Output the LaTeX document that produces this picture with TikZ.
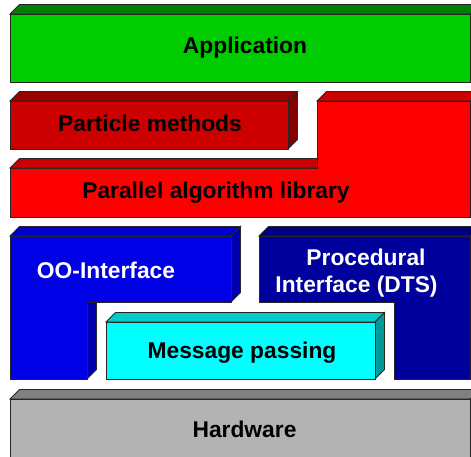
\documentclass[tikz,border=0pt]{standalone}
\usepackage{fontspec}
\setmainfont{Liberation Sans}
\begin{document}
\begin{tikzpicture}[x=1pt,y=-1pt,
  face/.style={draw=black!85,line width=0.8pt,line join=miter},
  lbl/.style={font=\fontsize{22.8}{27}\selectfont\bfseries,inner sep=0pt,anchor=base},
  wlbl/.style={lbl,text=white}]
\definecolor{appF}{HTML}{00CC00}\definecolor{appT}{HTML}{007F00}
\definecolor{parF}{HTML}{CC0000}\definecolor{parT}{HTML}{990000}\definecolor{parS}{HTML}{850000}
\definecolor{palF}{HTML}{FF0000}\definecolor{palT}{HTML}{CC0000}
\definecolor{ooF}{HTML}{0000E6}\definecolor{ooT}{HTML}{0000CC}\definecolor{ooS}{HTML}{0000B0}
\definecolor{prF}{HTML}{00009C}\definecolor{prT}{HTML}{000080}
\definecolor{mpF}{HTML}{00FFFF}\definecolor{mpT}{HTML}{00CCCC}\definecolor{mpS}{HTML}{009999}
\definecolor{hwF}{HTML}{B3B3B3}\definecolor{hwT}{HTML}{808080}
\useasboundingbox (0,0) rectangle (471,456);
\clip (0,0) rectangle (471,456);
% Application
\fill[white] (0,0) rectangle (471,456);
\draw[face,fill=appT] (10,14) -- (19.5,4.5) -- (479.5,4.5) -- (470,14) -- cycle;
\draw[face,fill=appF] (10,14) rectangle (470,82);
\node[lbl] (app) at (245,53) {Application};
% Particle methods
\draw[face,fill=parT] (10,101) -- (19.5,91.5) -- (297.5,91.5) -- (288,101) -- cycle;
\draw[face,fill=parS] (288,101) -- (297.5,91.5) -- (297.5,139.5) -- (288,149) -- cycle;
\draw[face,fill=parF] (10,101) rectangle (288,149);
\node[lbl] (pm) at (150,131) {Particle methods};
% Parallel algorithm library
\draw[face,fill=palT] (10,168) -- (19.5,158.5) -- (326.5,158.5) -- (317,168) -- cycle;
\draw[face,fill=palT] (317,101) -- (326.5,91.5) -- (479.5,91.5) -- (470,101) -- cycle;
\draw[face,fill=palF] (10,168) -- (317,168) -- (317,101) -- (470,101) -- (470,217) -- (10,217) -- cycle;
\node[lbl] (pal) at (216,198) {Parallel algorithm library};
% OO-Interface
\draw[face,fill=ooT] (10,236) -- (19.5,226.5) -- (240.5,226.5) -- (231,236) -- cycle;
\draw[face,fill=ooS] (231,236) -- (240.5,226.5) -- (240.5,292.5) -- (231,302) -- cycle;
\draw[face,fill=ooS] (87,302) -- (96.5,292.5) -- (96.5,369.5) -- (87,379) -- cycle;
\draw[face,fill=ooF] (10,236) -- (231,236) -- (231,302) -- (87,302) -- (87,379) -- (10,379) -- cycle;
\node[wlbl] (oo) at (106,278) {OO-Interface};
% Procedural interface
\draw[face,fill=prT] (259,236) -- (268.5,226.5) -- (479.5,226.5) -- (470,236) -- cycle;
\draw[face,fill=prF] (259,236) -- (470,236) -- (470,379) -- (394,379) -- (394,302) -- (259,302) -- cycle;
\node[wlbl] (pr1) at (366,265) {Procedural};
\node[wlbl] (pr2) at (356.5,292) {Interface (DTS)};
% Message passing
\draw[face,fill=mpT] (106,322) -- (115.5,312.5) -- (384.5,312.5) -- (375,322) -- cycle;
\draw[face,fill=mpS] (375,322) -- (384.5,312.5) -- (384.5,369.5) -- (375,379) -- cycle;
\draw[face,fill=mpF] (106,322) rectangle (375,379);
\node[lbl] (mp) at (242,358) {Message passing};
% Hardware
\draw[face,fill=hwT] (10,399) -- (19.5,389.5) -- (479.5,389.5) -- (470,399) -- cycle;
\draw[face,fill=hwF] (10,399) rectangle (470,462);
\node[lbl] (hw) at (244.5,437) {Hardware};
\end{tikzpicture}
\end{document}
